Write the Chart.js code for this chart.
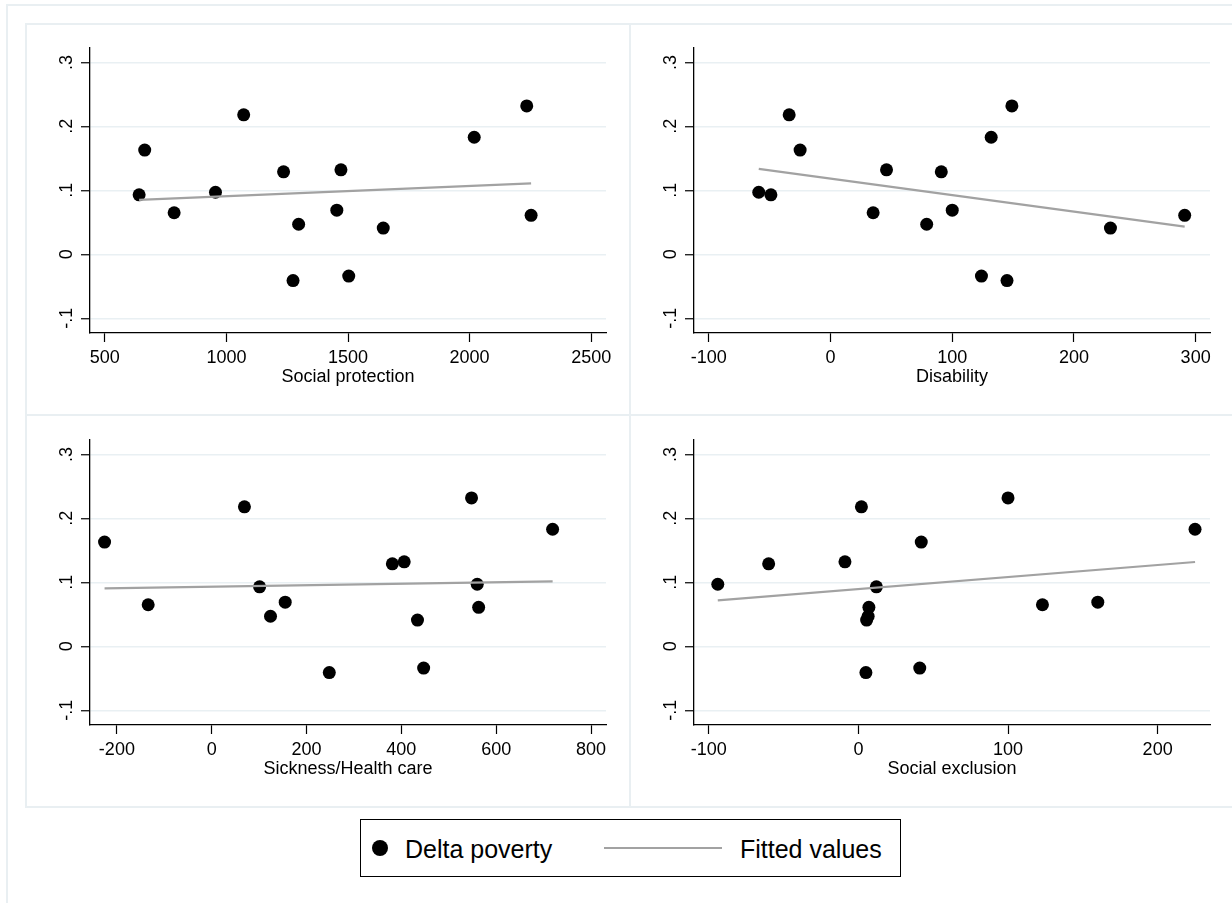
<!DOCTYPE html>
<html><head><meta charset="utf-8">
<script src="https://cdn.jsdelivr.net/npm/chart.js@4/dist/chart.umd.min.js"></script>
<style>
html,body{margin:0;padding:0;background:#fff;}
body{width:1232px;height:903px;position:relative;overflow:hidden;font-family:'Liberation Sans',Arial,sans-serif;}
canvas{position:absolute;}
.fr{position:absolute;background:#e9eff2;}
#legend{position:absolute;left:360px;top:819px;width:541px;height:58px;border:1.5px solid #000;box-sizing:border-box;background:#fff;}
#legend .dot{position:absolute;left:10.5px;top:19.5px;width:16px;height:16px;border-radius:50%;background:#000;}
#legend .txt{position:absolute;font-size:25px;line-height:25px;color:#000;white-space:nowrap;}
#legend .lline{position:absolute;left:242.5px;top:26.5px;width:118px;height:2.5px;background:#a2a2a2;}
</style></head>
<body>
<div class="fr" style="left:6px;top:4px;width:2px;height:899px"></div>
<div class="fr" style="left:6px;top:4px;width:1226px;height:2px"></div>
<div class="fr" style="left:25px;top:23px;width:2px;height:785px"></div>
<div class="fr" style="left:629px;top:23px;width:2px;height:785px"></div>
<div class="fr" style="left:25px;top:23px;width:1207px;height:2px"></div>
<div class="fr" style="left:25px;top:414px;width:1207px;height:2px"></div>
<div class="fr" style="left:25px;top:806px;width:1207px;height:2px"></div>
<div id="legend">
  <span class="dot"></span>
  <span class="txt" style="left:44px;top:16.5px">Delta poverty</span>
  <span class="lline"></span>
  <span class="txt" style="left:379px;top:16.5px">Fitted values</span>
</div>
<script>
// ---- data (one value per country, same order in every array) ----
const deltaPoverty     = [0.093, 0.163, 0.065, 0.097, 0.218, 0.129, -0.041, 0.047, 0.069, 0.132, -0.034, 0.041, 0.183, 0.232, 0.061];
const socialProtection = [641, 664, 785, 955, 1071, 1235, 1274, 1297, 1454, 1471, 1503, 1645, 2019, 2235, 2253];
const disability       = [-49, -25, 35, -59, -34, 91, 145, 79, 100, 46, 124, 230, 132, 149, 291];
const sicknessHealth   = [101, -226, -134, 560, 69, 381, 248, 124, 155, 406, 447, 434, 719, 548, 563];
const socialExclusion  = [12, 42, 123, -94, 2, -60, 5, 6.5, 160, -9, 41, 5.5, 225, 100, 7];

// fitted values (end points of each fitted line)
const fitProtectionX = [641, 2253];   const fitProtectionY = [0.085, 0.111];
const fitDisabilityX = [-59, 291];    const fitDisabilityY = [0.1335, 0.0432];
const fitSicknessX   = [-226, 719];   const fitSicknessY   = [0.0906, 0.1016];
const fitExclusionX  = [-94, 225];    const fitExclusionY  = [0.0718, 0.1318];

// tick labels
const yTicks = [-0.1, 0, 0.1, 0.2, 0.3];
const yTickLabels = ['-.1', '0', '.1', '.2', '.3'];
const xTicksProtection = [500, 1000, 1500, 2000, 2500];
const xTicksDisability = [-100, 0, 100, 200, 300];
const xTicksSickness   = [-200, 0, 200, 400, 600, 800];
const xTicksExclusion  = [-100, 0, 100, 200];

const FONT = "'Liberation Sans', Arial, sans-serif";
Chart.defaults.font.family = FONT;
Chart.defaults.color = '#000';

const yLabelPlugin = {
  id: 'ylab',
  afterDraw(chart) {
    const {ctx, chartArea, scales: {y}} = chart;
    ctx.save();
    ctx.fillStyle = '#000';
    ctx.font = '18px ' + FONT;
    ctx.textAlign = 'center';
    ctx.textBaseline = 'alphabetic';
    yTicks.forEach((v, i) => {
      const py = y.getPixelForValue(v);
      ctx.save();
      ctx.translate(chartArea.left - 18, py);
      ctx.rotate(-Math.PI / 2);
      ctx.fillText(yTickLabels[i], 0, 0);
      ctx.restore();
    });
    ctx.restore();
  }
};

function makePanel(box, cfg) {
  const c = document.createElement('canvas');
  c.width = box.w; c.height = box.h;
  c.style.left = box.x + 'px'; c.style.top = box.y + 'px';
  document.body.appendChild(c);
  new Chart(c, {
    type: 'scatter',
    data: { datasets: [
      { type: 'line', data: cfg.fitX.map((x, i) => ({x, y: cfg.fitY[i]})),
        borderColor: '#a2a2a2', borderWidth: 2.2, pointRadius: 0, fill: false, tension: 0, order: 1 },
      { data: cfg.xs.map((x, i) => ({x, y: deltaPoverty[i]})),
        backgroundColor: '#000', borderWidth: 0, pointRadius: 6.5, pointHoverRadius: 6.5, order: 2 }
    ]},
    options: {
      responsive: false, animation: false, events: [],
      layout: { padding: { top: box.pt, right: box.pr, left: 0, bottom: 0 } },
      plugins: { legend: { display: false }, tooltip: { enabled: false } },
      scales: {
        x: {
          type: 'linear', min: cfg.xmin, max: cfg.xmax,
          afterBuildTicks: s => { s.ticks = cfg.xticks.map(v => ({value: v})); },
          afterFit: s => { s.height = 82; },
          ticks: { color: '#000', font: { size: 18 }, padding: 5, maxRotation: 0, minRotation: 0, autoSkip: false,
                   callback: v => String(v) },
          grid: { drawOnChartArea: false, drawTicks: true, tickLength: 9, tickColor: '#000', tickWidth: 1.2 },
          border: { color: '#000', width: 1.3 },
          title: { display: true, text: cfg.title, color: '#000', font: { size: 18 }, padding: { top: 0, bottom: 27 } }
        },
        y: {
          type: 'linear', min: -0.123, max: 0.3225,
          afterBuildTicks: s => { s.ticks = yTicks.map(v => ({value: v})); },
          afterFit: s => { s.width = 64; },
          ticks: { display: false },
          grid: { color: '#e9f0f3', lineWidth: 1.5, drawTicks: true, tickLength: 9, tickColor: '#000', tickWidth: 1.2 },
          border: { color: '#000', width: 1.3 }
        }
      }
    },
    plugins: [yLabelPlugin]
  });
}

makePanel({x: 26, y: 24, w: 604, h: 391, pt: 24, pr: 24},
  {xs: socialProtection, fitX: fitProtectionX, fitY: fitProtectionY, xticks: xTicksProtection,
   xmin: 439, xmax: 2561, title: 'Social protection'});
makePanel({x: 630, y: 24, w: 602, h: 391, pt: 24, pr: 22},
  {xs: disability, fitX: fitDisabilityX, fitY: fitDisabilityY, xticks: xTicksDisability,
   xmin: -112.2, xmax: 311.8, title: 'Disability'});
makePanel({x: 26, y: 415, w: 604, h: 392, pt: 25, pr: 24},
  {xs: sicknessHealth, fitX: fitSicknessX, fitY: fitSicknessY, xticks: xTicksSickness,
   xmin: -256.7, xmax: 831.6, title: 'Sickness/Health care'});
makePanel({x: 630, y: 415, w: 602, h: 392, pt: 25, pr: 22},
  {xs: socialExclusion, fitX: fitExclusionX, fitY: fitExclusionY, xticks: xTicksExclusion,
   xmin: -109.9, xmax: 235, title: 'Social exclusion'});
</script>
</body></html>
